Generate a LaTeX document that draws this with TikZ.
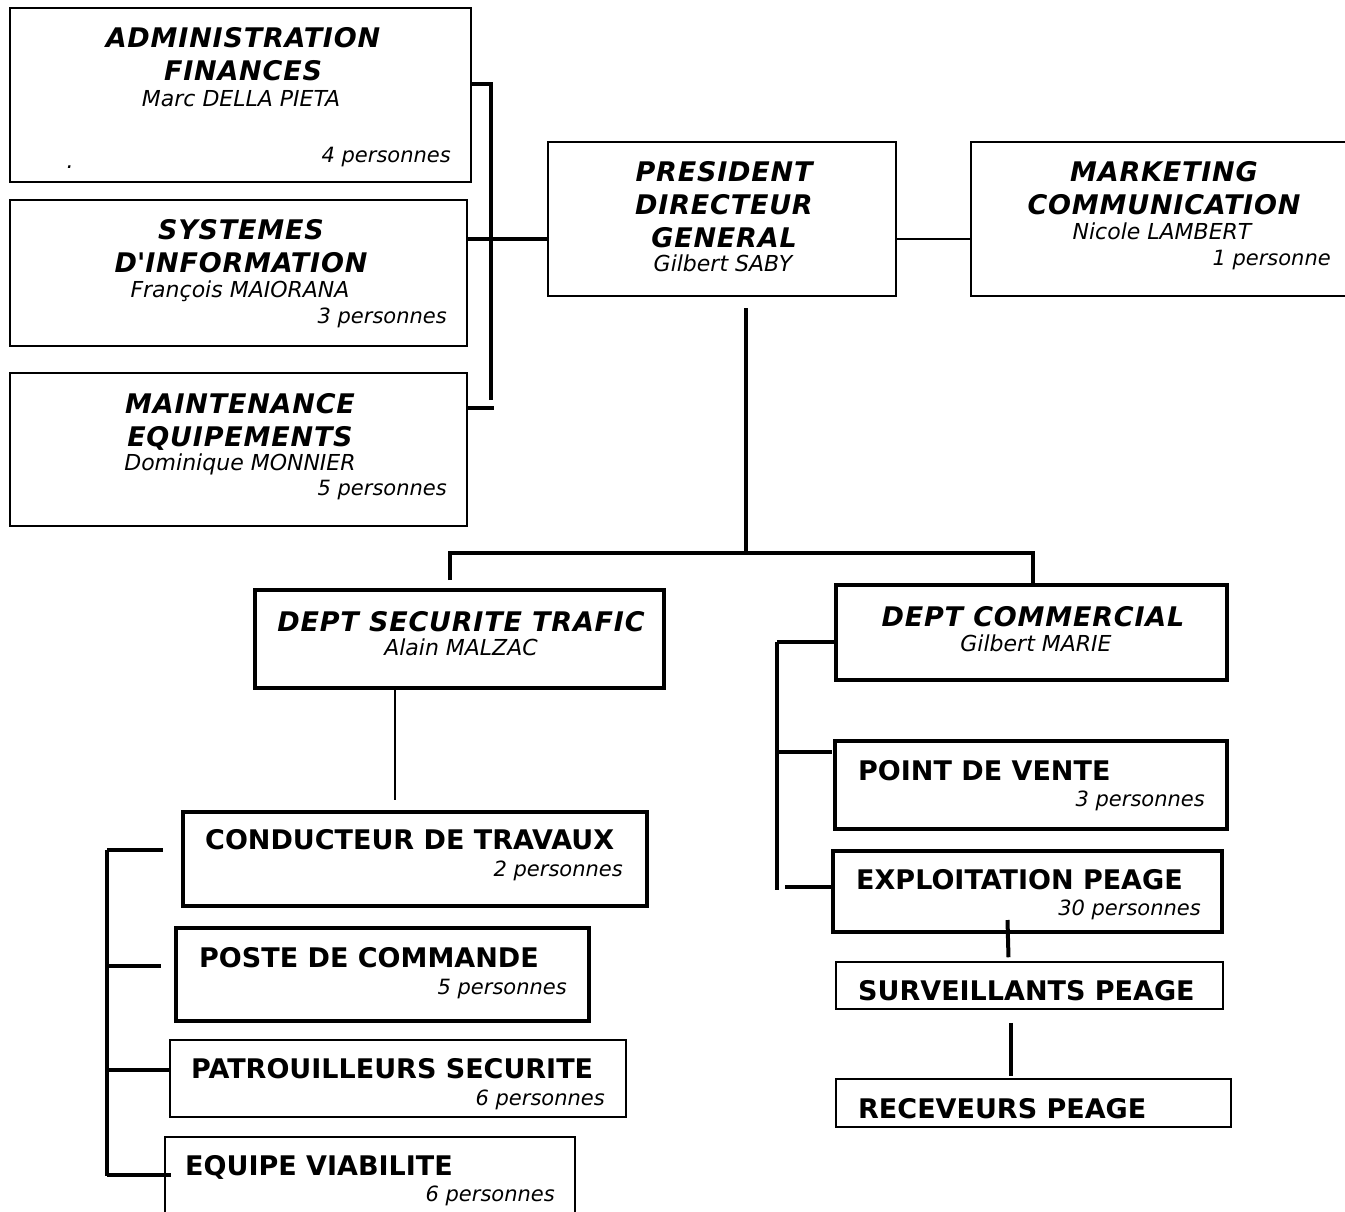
\documentclass[tikz,border=0pt]{standalone}
\usepackage{fontspec}
\setmainfont{DejaVu Sans}
\newfontfamily\ttlfont[LetterSpace=3]{DejaVu Sans}
\usetikzlibrary{calc}

\begin{document}
\begin{tikzpicture}[
  x=1pt, y=1pt,
  box/.style={draw, line width=1.5pt, inner sep=0pt},
  bbox/.style={draw, line width=4pt, inner sep=0pt},
  ttl/.style={font=\fontsize{27}{33}\ttlfont\bfseries\itshape, align=center, inner sep=0pt, anchor=north},
  hd/.style={font=\fontsize{27}{31}\selectfont\bfseries, inner sep=0pt, anchor=base west},
  nm/.style={font=\fontsize{22}{25}\selectfont\itshape, inner sep=0pt, anchor=base},
  pers/.style={font=\fontsize{21}{25}\selectfont\itshape, inner sep=0pt, anchor=base east},
  lnk/.style={line width=4pt},
  slim/.style={line width=1.5pt}
]

\useasboundingbox (0,0) rectangle (1345,-1212);
\clip (0,0) rectangle (1345,-1212);
\fill[white] (0,0) rectangle (1345,-1212);

% direction
\node[box, minimum width=461pt, minimum height=174pt] (adm) at (240.5,-95) {};
\node[box, minimum width=457pt, minimum height=146pt] (sys) at (238.5,-273) {};
\node[box, minimum width=457pt, minimum height=153pt] (mnt) at (238.5,-449.5) {};
\node[box, minimum width=348pt, minimum height=154pt] (pdg) at (722,-219) {};
\node[box, minimum width=390pt, minimum height=154pt] (mkt) at (1166,-219) {};

\node[ttl] (admT) at (243,-27) {ADMINISTRATION\\FINANCES};
\node[nm] (admN) at (241,-107) {Marc DELLA PIETA};
\node[pers] (admP) at (451,-163) {4 personnes};
\node[nm] (admD) at (70,-168) {.};
\node[ttl] (sysT) at (241,-219) {SYSTEMES\\D\textquotesingle INFORMATION};
\node[nm] (sysN) at (240,-297) {François MAIORANA};
\node[pers] (sysP) at (447,-323) {3 personnes};
\node[ttl] (mntT) at (240,-393) {MAINTENANCE\\EQUIPEMENTS};
\node[nm] (mntN) at (240,-470) {Dominique MONNIER};
\node[pers] (mntP) at (447,-495) {5 personnes};
\node[ttl] (pdgT) at (724,-161) {PRESIDENT\\DIRECTEUR\\GENERAL};
\node[nm] (pdgN) at (723,-271) {Gilbert SABY};
\node[ttl] (mktT) at (1164,-161) {MARKETING\\COMMUNICATION};
\node[nm] (mktN) at (1162,-240) {Nicole LAMBERT};
\node[pers] (mktP) at (1331,-265) {1 personne};

% departements
\node[bbox, minimum width=409pt, minimum height=98pt] (dst) at (459.5,-639) {};
\node[bbox, minimum width=391pt, minimum height=95pt] (dcm) at (1031.5,-632.5) {};
\node[ttl, anchor=base] (dstT) at (461,-631) {DEPT SECURITE TRAFIC};
\node[nm] (dstN) at (461,-655) {Alain MALZAC};
\node[ttl, anchor=base] (dcmT) at (1033,-626) {DEPT COMMERCIAL};
\node[nm] (dcmN) at (1036,-651) {Gilbert MARIE};

% services
\node[bbox, minimum width=464pt, minimum height=94pt] (cdt) at (415,-859) {};
\node[bbox, minimum width=413pt, minimum height=93pt] (pcm) at (382.5,-974.5) {};
\node[box, minimum width=456pt, minimum height=77pt] (pat) at (398,-1078.5) {};
\node[box, minimum width=410pt, minimum height=93pt] (eqv) at (370,-1183.5) {};
\node[bbox, minimum width=392pt, minimum height=88pt] (pdv) at (1031,-785) {};
\node[bbox, minimum width=389pt, minimum height=81pt] (exp) at (1027.5,-891.5) {};
\node[box, minimum width=387pt, minimum height=47pt] (sur) at (1029.5,-985.5) {};
\node[box, minimum width=395pt, minimum height=48pt] (rec) at (1033.5,-1103) {};

\node[hd] (cdtT) at (205,-849) {CONDUCTEUR DE TRAVAUX};
\node[pers] (cdtP) at (623,-876) {2 personnes};
\node[hd] (pcmT) at (199,-967) {POSTE DE COMMANDE};
\node[pers] (pcmP) at (567,-994) {5 personnes};
\node[hd] (patT) at (191,-1078) {PATROUILLEURS SECURITE};
\node[pers] (patP) at (605,-1105) {6 personnes};
\node[hd] (eqvT) at (185,-1175) {EQUIPE VIABILITE};
\node[pers] (eqvP) at (555,-1201) {6 personnes};
\node[hd] (pdvT) at (858,-780) {POINT DE VENTE};
\node[pers] (pdvP) at (1205,-806) {3 personnes};
\node[hd] (expT) at (856,-889) {EXPLOITATION PEAGE};
\node[pers] (expP) at (1201,-915) {30 personnes};
\node[hd] (surT) at (858,-1000) {SURVEILLANTS PEAGE};
\node[hd] (recT) at (858,-1118) {RECEVEURS PEAGE};

% liaisons
\coordinate (lbT) at (491,-84);
\coordinate (lbB) at (491,-400);
\coordinate (hub) at (491,-239);
\coordinate (lbE) at (494,-408);
\draw[lnk] (lbT) -- (lbB);
\draw[lnk] (adm.east |- lbT) -- ([xshift=2pt]lbT);
\draw[lnk] (sys.east |- hub) -- (pdg.west |- hub);
\draw[lnk] (mnt.east |- lbE) -- (lbE);
\draw[slim] (pdg.east |- hub) -- (mkt.west |- hub);

\coordinate (trunkTop) at (746,-308);
\coordinate (trunk) at (746,-553);
\coordinate (splitL) at (450,-553);
\coordinate (splitR) at (1033,-553);
\coordinate (dstIn) at (450,-580);
\draw[lnk] (trunkTop) -- (trunk);
\draw[lnk] (dstIn) -- (splitL) -- (splitR) -- (dcm.north -| splitR);

\coordinate (cdtIn) at (395,-800);
\draw[slim] (dst.south -| cdtIn) -- (cdtIn);

\coordinate (sbT) at (107,-850);
\coordinate (sbB) at (107,-1176);
\draw[lnk] (sbT) -- (sbB);
\foreach \b/\g in {cdt/18, pcm/13, pat/0, eqv/-7}
  \draw[lnk] ($(\b.west -| sbT)+(0,9)$) -- ($(\b.west)+(-\g,9)$);

\coordinate (cbT) at (777,-642);
\coordinate (cbB) at (777,-890);
\draw[lnk] (cbT) -- (cbB);
\draw[lnk] (cbT) -- (dcm.west |- cbT);
\draw[lnk] ($(pdv.west -| cbT)+(0,33)$) -- ($(pdv.west)+(-1,33)$);
\draw[lnk] ($(exp.west -| cbT)+(8,5)$) -- ($(exp.west)+(0,5)$);

\draw[lnk] ($(exp.south)+(-20,14)$) -- ($(sur.north)+(-21,4)$);
\draw[lnk] ($(sur.south)+(-19,-13)$) -- ($(rec.north)+(-23,2)$);

\end{tikzpicture}
\end{document}
